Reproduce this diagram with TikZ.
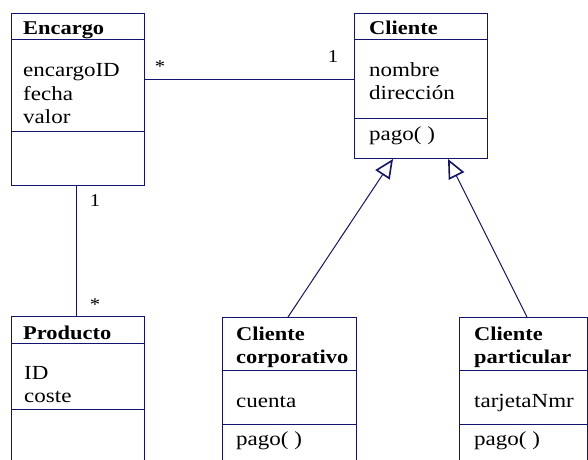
\documentclass[tikz,border=0pt]{standalone}
\usepackage{fontspec}
\setmainfont{Liberation Serif}[FakeStretch=1.15]
\usetikzlibrary{arrows.meta,calc}
\definecolor{umlline}{RGB}{20,20,110}
\tikzset{
  classbox/.style={draw=umlline, line width=1pt, anchor=north west, inner sep=0pt},
  divider/.style={draw=umlline, line width=1pt},
  assoc/.style={draw=umlline, line width=1pt},
  gen/.style={draw=umlline, line width=1pt, -{Triangle[open, length=19pt, width=17pt, line width=1.6pt]}},
  title/.style={anchor=base west, inner sep=0pt, font=\fontsize{19.5}{22}\selectfont\bfseries},
  attr/.style={anchor=base west, inner sep=0pt, font=\fontsize{20}{22}\selectfont},
  mult/.style={anchor=base, inner sep=0pt, font=\fontsize{18}{20}\selectfont},
}
\begin{document}
\begin{tikzpicture}[x=1pt,y=-1pt]
\useasboundingbox (0,0) rectangle (588,459);
\clip (0,0) rectangle (588,459);
% boxes
\node[classbox, minimum width=133pt, minimum height=172pt] (enc) at (11,13) {};
\node[classbox, minimum width=133pt, minimum height=145pt] (cli) at (354,13) {};
\node[classbox, minimum width=133pt, minimum height=160pt] (prod) at (11,316) {};
\node[classbox, minimum width=134pt, minimum height=160pt] (corp) at (222,317) {};
\node[classbox, minimum width=128pt, minimum height=160pt] (part) at (459,317) {};
% dividers
\draw[divider] (enc.west |- 0,39) -- (enc.east |- 0,39);
\draw[divider] (enc.west |- 0,131) -- (enc.east |- 0,131);
\draw[divider] (cli.west |- 0,39) -- (cli.east |- 0,39);
\draw[divider] (cli.west |- 0,118) -- (cli.east |- 0,118);
\draw[divider] (prod.west |- 0,343) -- (prod.east |- 0,343);
\draw[divider] (prod.west |- 0,409) -- (prod.east |- 0,409);
\draw[divider] (corp.west |- 0,370) -- (corp.east |- 0,370);
\draw[divider] (corp.west |- 0,424) -- (corp.east |- 0,424);
\draw[divider] (part.west |- 0,370) -- (part.east |- 0,370);
\draw[divider] (part.west |- 0,424) -- (part.east |- 0,424);
% texts
\node[title] (tenc) at (23,34) {Encargo};
\node[attr] (a1) at (23,76) {encargoID};
\node[attr] (a2) at (23,100) {fecha};
\node[attr] (a3) at (23,123) {valor};
\node[title] (tcli) at (369,34) {Cliente};
\node[attr] (c1) at (369,76) {nombre};
\node[attr] (c2) at (369,99) {dirección};
\node[attr] (c3) at (369,140) {pago( )};
\node[title] (tprod) at (23,339) {Producto};
\node[attr] (p1) at (24,379) {ID};
\node[attr] (p2) at (24,402) {coste};
\node[title] (tcorp1) at (236,340) {Cliente};
\node[title] (tcorp2) at (236,363) {corporativo};
\node[attr] (k1) at (236,407) {cuenta};
\node[attr] (k2) at (236,445) {pago( )};
\node[title] (tpart1) at (474,340) {Cliente};
\node[title] (tpart2) at (474,363) {particular};
\node[attr] (q1) at (474,407) {tarjetaNmr};
\node[attr] (q2) at (474,445) {pago( )};
% connectors
\coordinate (encR) at (enc.east |- 0,79);
\coordinate (cliL) at (cli.west |- 0,79);
\draw[assoc] (encR) -- (cliL);
\coordinate (encB) at (76,0 |- enc.south);
\coordinate (prodT) at (76,0 |- prod.north);
\draw[assoc] (encB) -- (prodT);
\coordinate (gen1top) at (393,0 |- cli.south);
\coordinate (gen2top) at (448,0 |- cli.south);
\coordinate (corpT) at (288,0 |- corp.north);
\coordinate (partT) at (527,0 |- part.north);
\draw[gen] (corpT) -- (gen1top);
\draw[gen] (partT) -- (gen2top);
% multiplicities
\node[mult] (m1) at (160,72) {*};
\node[mult] (m2) at (333,62) {1};
\node[mult] (m3) at (95,206) {1};
\node[mult] (m4) at (95,310) {*};
\end{tikzpicture}
\end{document}
